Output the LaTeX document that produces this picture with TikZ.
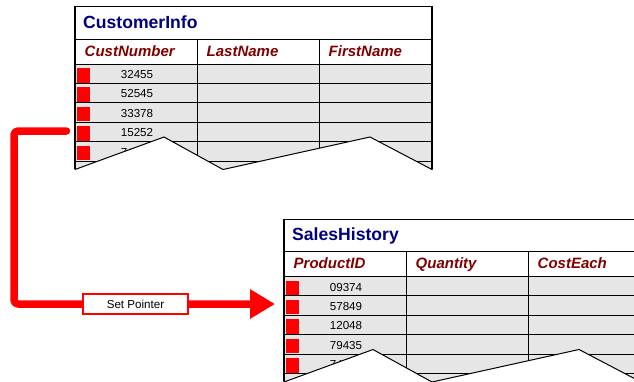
\documentclass[tikz,border=0pt]{standalone}
\usepackage{fontspec}
\setmainfont{Liberation Sans}
\usetikzlibrary{arrows.meta}
\definecolor{titleblue}{RGB}{0,0,128}
\definecolor{headred}{RGB}{128,0,0}
\definecolor{rowgray}{RGB}{230,230,230}
\definecolor{ptrred}{RGB}{255,0,0}
% #1 prefix, #2 title, #3 #4 #5 headers, #6 list k/number
\newcommand\dbtable[6]{%
  \fill[rowgray] (0,57.3) rectangle (357,195);
  \foreach \k/\n in {#6} {
    \fill[marker] (2,57.3+19.4*\k+4) rectangle (15,57.3+19.4*\k+18.5);
    \node[numtext] (#1-n\k) at (62,57.3+19.4*\k+14.5) {\n};
  }
  \foreach \yy in {32.5,57.3,76.7,96.1,115.5,134.9,154.3}
    \draw[grid] (0,\yy) -- (357,\yy);
  \draw[grid] (122,32.5) -- (122,195);
  \draw[grid] (244,32.5) -- (244,195);
  \draw[outer] (0,195) -- (0,0) -- (357,0) -- (357,195);
  \node[titletext] (#1-title) at (8,21.3) {#2};
  \node[headtext] (#1-h1) at (9.5,49.3) {#3};
  \node[headtext] (#1-h2) at (131.5,49.3) {#4};
  \node[headtext] (#1-h3) at (253.5,49.3) {#5};
  \fill[white] (-2,163.2) -- (89,130.3) -- (148,162.8) -- (295,130.3) -- (359,163.8)
    -- (359,210) -- (-2,210) -- cycle;
  \draw[grid] (0,162.8) -- (89,130.3) -- (148,162.8) -- (295,130.3) -- (357,162.8);
}
\begin{document}
\begin{tikzpicture}[x=1pt,y=-1pt,
  grid/.style={draw=black,line width=1pt},
  outer/.style={draw=black,line width=1.2pt},
  titletext/.style={anchor=base west,inner sep=0pt,font=\fontsize{17.6}{20}\selectfont\bfseries,text=titleblue},
  headtext/.style={anchor=base west,inner sep=0pt,font=\fontsize{15}{18}\selectfont\bfseries\itshape,text=headred},
  numtext/.style={anchor=base,inner sep=0pt,font=\fontsize{11.6}{14}\selectfont},
  marker/.style={fill=ptrred},
  ptrline/.style={draw=ptrred,line width=7.5pt,line cap=round,line join=round,rounded corners=4pt},
  ptrlabel/.style={draw=ptrred,line width=1.2pt,fill=white,minimum width=105pt,minimum height=20pt,inner sep=0pt,font=\fontsize{11.6}{14}\selectfont}
]
\useasboundingbox (0,0) rectangle (634,381);
\clip (0,0) rectangle (634,381);
\begin{scope}[shift={(75,6.7)}]
  \dbtable{cust}{CustomerInfo}{CustNumber}{LastName}{FirstName}{0/32455,1/52545,2/33378,3/15252,4/74125}
\end{scope}
\begin{scope}[shift={(284,219.2)}]
  \dbtable{sales}{SalesHistory}{ProductID}{Quantity}{CostEach}{0/09374,1/57849,2/12048,3/79435,4/74862}
\end{scope}
\coordinate (src) at (66.5,131);
\coordinate (bend) at (14,131);
\coordinate (dst) at (275,304);
\draw[ptrline,-{Triangle[length=25pt,width=28pt]}] (src) -- (bend) |- (dst);
\node[ptrlabel] (lbl) at (135.5,304) {Set Pointer};
\end{tikzpicture}
\end{document}
